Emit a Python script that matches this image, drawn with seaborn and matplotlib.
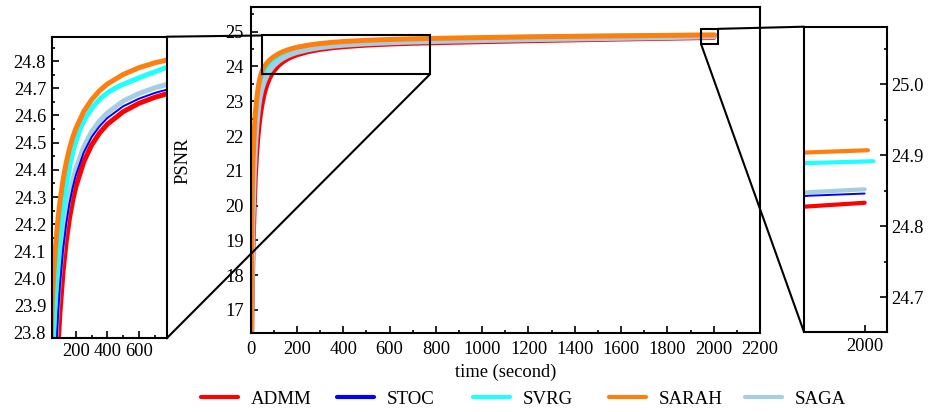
import numpy as np
import pandas as pd
import matplotlib
matplotlib.use("Agg")
import matplotlib.pyplot as plt
import seaborn as sns
from matplotlib.patches import Rectangle, ConnectionPatch
from matplotlib.lines import Line2D
from matplotlib.ticker import MultipleLocator, FixedLocator, FormatStrFormatter

# ---------------- data ----------------
methods = ["ADMM", "STOC", "SVRG", "SARAH", "SAGA"]
colors = {"ADMM": "#ff0000", "STOC": "#0000ff", "SVRG": "#1effff",
          "SARAH": "#ff7f0e", "SAGA": "#a6cee3"}

admm_t = [0, 5, 10, 15, 20, 25, 30, 35, 40, 45, 50, 60, 70, 80, 90, 100, 120, 140, 160,
          180, 200, 250, 300, 350, 400, 500, 600, 700, 800, 900, 1000, 1200, 1400, 1600,
          1800, 1950, 2000]
admm_y = [13.5, 16.8, 18.8, 20.0, 20.85, 21.45, 21.9, 22.25, 22.53, 22.76, 22.953, 23.259,
          23.479, 23.643, 23.771, 23.874, 24.028, 24.138, 24.221, 24.285, 24.336, 24.429,
          24.491, 24.535, 24.568, 24.614, 24.645, 24.667, 24.684, 24.699, 24.713, 24.740,
          24.765, 24.789, 24.811, 24.828, 24.833]

stoc_t = [0, 5, 10, 15, 20, 25, 30, 35, 40, 45, 50, 60, 70, 80, 90, 100, 120, 140, 160,
          180, 200, 250, 300, 350, 400, 500, 600, 700, 800, 900, 1000, 1200, 1400, 1600,
          1800, 1950, 2000]
stoc_y = [13.8, 17.3, 19.3, 20.5, 21.3, 21.85, 22.25, 22.55, 22.8, 23.02, 23.214, 23.459,
          23.638, 23.776, 23.884, 23.972, 24.106, 24.202, 24.276, 24.333, 24.379, 24.463,
          24.520, 24.560, 24.591, 24.634, 24.662, 24.683, 24.699, 24.713, 24.726, 24.752,
          24.776, 24.800, 24.822, 24.843, 24.846]

svrg_t = [0, 5, 10, 15, 20, 25, 30, 35, 40, 45, 50, 55, 60, 65, 70, 80, 90, 100, 110, 122,
          140, 164, 190, 227, 260, 312, 360, 417, 480, 564, 650, 775, 900, 1000, 1200,
          1400, 1600, 1800, 1950, 2008]
svrg_y = [14.5, 18.8, 20.6, 21.6, 22.2, 22.65, 22.95, 23.2, 23.40, 23.54, 23.65, 23.74,
          23.815, 23.875, 23.93, 24.02, 24.095, 24.16, 24.215, 24.27, 24.34, 24.42, 24.485,
          24.55, 24.59, 24.635, 24.665, 24.69, 24.71, 24.73, 24.75, 24.777, 24.80, 24.816,
          24.842, 24.862, 24.876, 24.884, 24.889, 24.8915]

sarah_t = [0, 5, 10, 15, 20, 25, 30, 35, 40, 45, 50, 60, 70, 80, 90, 100, 120, 140, 160,
           180, 200, 250, 300, 350, 400, 500, 600, 700, 800, 900, 1000, 1200, 1400, 1600,
           1800, 1950, 2003]
sarah_y = [15.0, 19.8, 21.3, 22.1, 22.65, 23.0, 23.28, 23.5, 23.66, 23.79, 23.89, 24.01,
           24.098, 24.17, 24.23, 24.282, 24.364, 24.427, 24.477, 24.518, 24.551, 24.614,
           24.658, 24.691, 24.716, 24.751, 24.776, 24.794, 24.807, 24.819, 24.830, 24.850,
           24.866, 24.880, 24.893, 24.904, 24.907]

saga_t = [0, 5, 10, 15, 20, 25, 30, 35, 40, 45, 50, 60, 70, 80, 90, 100, 120, 140, 160,
          180, 200, 250, 300, 350, 400, 500, 600, 700, 800, 900, 1000, 1200, 1400, 1600,
          1800, 1950, 2000]
saga_y = [14.0, 17.2, 19.6, 20.8, 21.6, 22.15, 22.55, 22.85, 23.08, 23.24, 23.372, 23.574,
          23.728, 23.847, 23.944, 24.023, 24.145, 24.235, 24.304, 24.359, 24.403, 24.484,
          24.540, 24.580, 24.610, 24.653, 24.681, 24.702, 24.718, 24.732, 24.745, 24.769,
          24.790, 24.810, 24.830, 24.848, 24.852]

x_ticks_main = [0, 200, 400, 600, 800, 1000, 1200, 1400, 1600, 1800, 2000, 2200]
y_ticks_main = [17, 18, 19, 20, 21, 22, 23, 24, 25]
zoomL_x = (48, 775)
zoomL_y = (23.78, 24.89)
zoomR_x = (1945, 2020)
zoomR_y = (24.651, 25.081)

series = {"ADMM": (admm_t, admm_y), "STOC": (stoc_t, stoc_y), "SVRG": (svrg_t, svrg_y),
          "SARAH": (sarah_t, sarah_y), "SAGA": (saga_t, saga_y)}
df = pd.concat([pd.DataFrame({"method": m, "time": t, "psnr": y})
                for m, (t, y) in series.items()], ignore_index=True)

# ---------------- style ----------------
sns.set_theme(style="ticks")
plt.rcParams["font.family"] = ["Liberation Serif", "DejaVu Serif"]
plt.rcParams["axes.edgecolor"] = "black"
plt.rcParams["axes.linewidth"] = 1.5
plt.rcParams["xtick.color"] = "black"
plt.rcParams["ytick.color"] = "black"
plt.rcParams["text.color"] = "black"
plt.rcParams["axes.labelcolor"] = "black"

FS = 13.3
W, H = 929, 412
fig = plt.figure(figsize=(W / 100, H / 100), dpi=100)

def px_axes(l, t, r, b):
    return fig.add_axes([l / W, 1 - b / H, (r - l) / W, (b - t) / H])

ax = px_axes(250.7, 7.3, 760, 333.3)
axL = px_axes(51.7, 36.7, 166.7, 338.3)
axR = px_axes(804, 26.7, 886.7, 332)

draw_order = ["ADMM", "STOC", "SVRG", "SAGA", "SARAH"]
draw_order_inset = ["ADMM", "SAGA", "STOC", "SVRG", "SARAH"]
lw = {"ADMM": 3.6, "STOC": 1.4, "SVRG": 3.6, "SARAH": 3.6, "SAGA": 3.6}
lwR = {"ADMM": 3.0, "STOC": 1.4, "SVRG": 3.0, "SARAH": 3.0, "SAGA": 3.0}

for a, widths, order in [(ax, lw, draw_order), (axL, lw, draw_order_inset),
                         (axR, lwR, draw_order_inset)]:
    for m in order:
        sub = df[df["method"] == m]
        sns.lineplot(data=sub, x="time", y="psnr", ax=a, color=colors[m],
                     linewidth=widths[m], estimator=None, sort=False, legend=False)
    a.set_xlabel("")
    a.set_ylabel("")
    for s in a.spines.values():
        s.set_linewidth(1.5)
        s.set_color("black")

# main axes
ax.set_xlim(0, 2200)
ax.set_ylim(16.33, 25.70)
ax.xaxis.set_major_locator(FixedLocator(x_ticks_main))
ax.xaxis.set_minor_locator(MultipleLocator(100))
ax.yaxis.set_major_locator(FixedLocator(y_ticks_main))
ax.yaxis.set_minor_locator(MultipleLocator(0.5))
ax.tick_params(axis="both", which="both", direction="in", top=False, right=False,
               labelsize=FS)
ax.tick_params(axis="both", which="major", length=5, width=1.2)
ax.tick_params(axis="both", which="minor", length=2.5, width=1.2)
ax.tick_params(axis="x", pad=5.5)
ax.tick_params(axis="y", pad=5)
ax.set_xlabel("time (second)", fontsize=FS, labelpad=4)
ax.set_ylabel("PSNR", fontsize=FS)
ax.yaxis.set_label_coords(-0.117, 0.53)

# left inset
axL.set_xlim(*zoomL_x)
axL.set_ylim(*zoomL_y)
axL.xaxis.set_major_locator(FixedLocator([200, 400, 600]))
axL.xaxis.set_minor_locator(FixedLocator([100, 300, 500, 700]))
axL.yaxis.set_major_locator(MultipleLocator(0.1))
axL.yaxis.set_minor_locator(MultipleLocator(0.05))
axL.yaxis.set_major_formatter(FormatStrFormatter("%.1f"))
axL.tick_params(axis="both", which="both", direction="in", top=False, right=False,
                labelsize=FS)
axL.tick_params(axis="both", which="major", length=5, width=1.2)
axL.tick_params(axis="both", which="minor", length=2.5, width=1.2)
axL.tick_params(axis="x", pad=3.5)
axL.tick_params(axis="y", pad=4)

# right inset
axR.set_xlim(*zoomR_x)
axR.set_ylim(*zoomR_y)
axR.xaxis.set_major_locator(FixedLocator([2000]))
axR.yaxis.set_major_locator(MultipleLocator(0.1))
axR.yaxis.set_minor_locator(MultipleLocator(0.05))
axR.yaxis.set_major_formatter(FormatStrFormatter("%.1f"))
axR.yaxis.tick_right()
axR.tick_params(axis="both", which="both", direction="in", top=False, left=False,
                labelsize=FS)
axR.tick_params(axis="y", which="both", right=True, labelright=True, labelleft=False)
axR.tick_params(axis="both", which="major", length=5, width=1.2)
axR.tick_params(axis="both", which="minor", length=2.5, width=1.2)
axR.tick_params(axis="x", pad=4.5)
axR.tick_params(axis="y", pad=3)

# zoom rectangles on main axes
ax.add_patch(Rectangle((zoomL_x[0], zoomL_y[0]), zoomL_x[1] - zoomL_x[0],
                       zoomL_y[1] - zoomL_y[0], fill=False, ec="black", lw=1.5, zorder=10))
ax.add_patch(Rectangle((zoomR_x[0], zoomR_y[0]), zoomR_x[1] - zoomR_x[0],
                       zoomR_y[1] - zoomR_y[0], fill=False, ec="black", lw=1.5, zorder=10))

# connector lines
cons = [
    ((1, 1), axL, (zoomL_x[0], zoomL_y[1])),
    ((1, 0), axL, (zoomL_x[1], zoomL_y[0])),
    ((0, 1), axR, (zoomR_x[1], zoomR_y[1])),
    ((0, 0), axR, (zoomR_x[0], zoomR_y[0])),
]
for xyA, axA, xyB in cons:
    c = ConnectionPatch(xyA=xyA, coordsA=axA.transAxes, xyB=xyB, coordsB=ax.transData,
                        color="black", lw=1.5)
    c.set_clip_on(False)
    fig.add_artist(c)

# legend: equally spaced entries
leg_x = [201, 337, 473, 609, 745]
for m, x0 in zip(methods, leg_x):
    h = Line2D([0], [0], color=colors[m], lw=3.0)
    fig.legend(handles=[h], labels=[m], loc="center left",
               bbox_to_anchor=(x0 / W, 1 - 399 / H), frameon=False, borderpad=0,
               borderaxespad=0, handlelength=1.96, handletextpad=0.69,
               fontsize=13.6)

fig.savefig("out.png", dpi=100)
